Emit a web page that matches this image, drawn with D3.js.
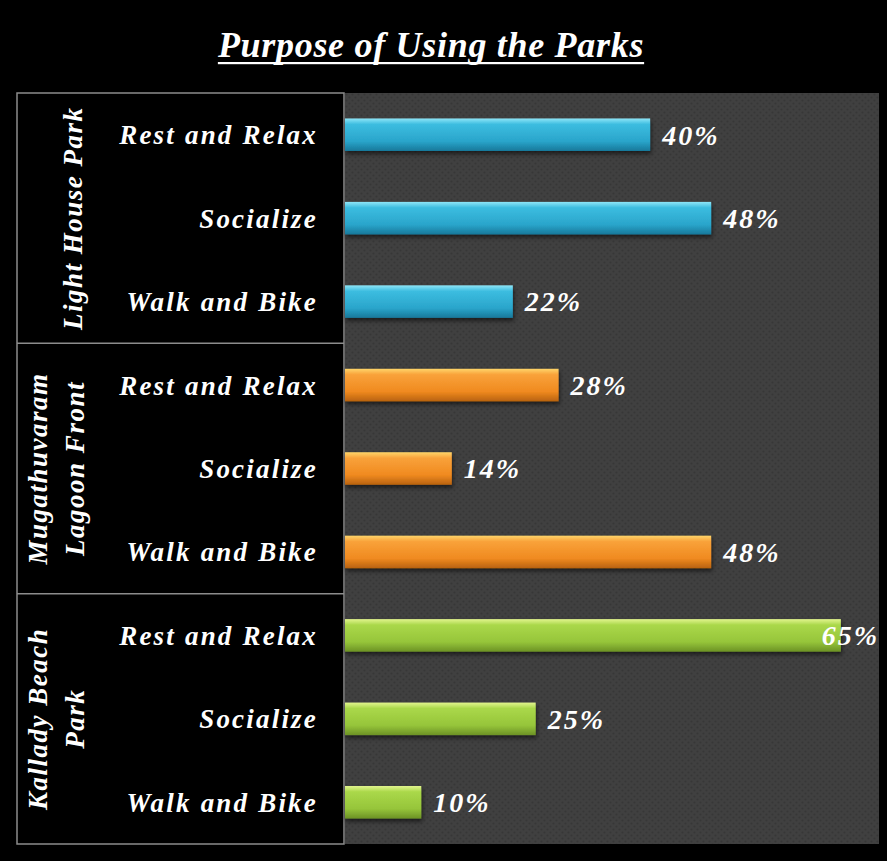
<!DOCTYPE html>
<html><head><meta charset="utf-8">
<script src="https://cdn.jsdelivr.net/npm/d3@7"></script>
<style>
html,body{margin:0;padding:0;background:#000;}
svg{display:block;}
</style></head>
<body>
<script>
const title = "Purpose of Using the Parks";
const groups = ["Light House Park", "Mugathuvaram Lagoon Front", "Kallady Beach Park"];
const groupLines = [["Light House Park"], ["Mugathuvaram", "Lagoon Front"], ["Kallady Beach", "Park"]];
const categories = ["Rest and Relax", "Socialize", "Walk and Bike"];
const lightHouse = [40, 48, 22];
const mugathuvaram = [28, 14, 48];
const kallady = [65, 25, 10];
const seriesValues = [lightHouse, mugathuvaram, kallady];
const palettes = [
  ["#8fe6f8", "#3cbde0", "#2aa5cb", "#17789a"],
  ["#ffd56a", "#f9a23a", "#f08a20", "#b8620f"],
  ["#e2f58e", "#aad84a", "#96c53a", "#6c9225"]
];

const W = 887, H = 861;
const panelL = 17, plotL = 345, plotR = 879, plotTop = 93, plotBottom = 844;
const font = "'Liberation Serif','Times New Roman',serif";

const rows = [];
groups.forEach((g, gi) => categories.forEach((c, ci) => rows.push({g, gi, c, ci, v: seriesValues[gi][ci], key: gi + "|" + ci})));

const svg = d3.select("body").append("svg").attr("width", W).attr("height", H);
const defs = svg.append("defs");

// background dot pattern
const pat = defs.append("pattern").attr("id", "dots").attr("width", 6).attr("height", 6).attr("patternUnits", "userSpaceOnUse");
pat.append("rect").attr("width", 6).attr("height", 6).attr("fill", "#404040");
pat.append("circle").attr("cx", 1.5).attr("cy", 1.5).attr("r", 1.1).attr("fill", "#373737");
pat.append("circle").attr("cx", 4.5).attr("cy", 4.5).attr("r", 1.1).attr("fill", "#373737");

palettes.forEach((p, i) => {
  const lg = defs.append("linearGradient").attr("id", "g" + i).attr("x1", 0).attr("y1", 0).attr("x2", 0).attr("y2", 1);
  lg.append("stop").attr("offset", "0%").attr("stop-color", p[0]);
  lg.append("stop").attr("offset", "18%").attr("stop-color", p[1]);
  lg.append("stop").attr("offset", "70%").attr("stop-color", p[2]);
  lg.append("stop").attr("offset", "100%").attr("stop-color", p[3]);
});
const f = defs.append("filter").attr("id", "shadow").attr("x", "-5%").attr("y", "-30%").attr("width", "110%").attr("height", "170%");
f.append("feDropShadow").attr("dx", 1).attr("dy", 3).attr("stdDeviation", 2).attr("flood-color", "#000").attr("flood-opacity", 0.55);

// title
const t = svg.append("text").attr("x", 431).attr("y", 57).attr("text-anchor", "middle")
  .attr("fill", "#fff").attr("font-family", font).attr("font-weight", "bold").attr("font-style", "italic")
  .attr("font-size", 36).attr("letter-spacing", 0.7).text(title);
const tw = t.node().getComputedTextLength();
svg.append("rect").attr("x", 431 - tw / 2).attr("y", 62).attr("width", tw).attr("height", 2.2).attr("fill", "#fff");

// scales
const y = d3.scaleBand().domain(rows.map(d => d.key)).range([plotTop, plotBottom]).padding(0);
const x = d3.scaleLinear().domain([0, 70]).range([plotL, plotR]);
const barH = y.bandwidth() * 0.39;

// plot area
svg.append("rect").attr("x", plotL).attr("y", plotTop).attr("width", plotR - plotL).attr("height", plotBottom - plotTop).attr("fill", "url(#dots)");

// left panel
svg.append("rect").attr("x", panelL).attr("y", plotTop).attr("width", plotL - panelL - 1).attr("height", plotBottom - plotTop)
  .attr("fill", "#000").attr("stroke", "#8c8c8c").attr("stroke-width", 1.5);
groups.forEach((g, gi) => {
  if (gi === 0) return;
  const yy = y(gi + "|0");
  svg.append("line").attr("x1", panelL).attr("x2", plotL - 1).attr("y1", yy).attr("y2", yy).attr("stroke", "#8c8c8c").attr("stroke-width", 1.5);
});

// group labels
groups.forEach((g, gi) => {
  const cy = (y(gi + "|0") + y(gi + "|2") + y.bandwidth()) / 2;
  const lines = groupLines[gi];
  const xs = lines.length === 1 ? [73] : [38, 75];
  lines.forEach((ln, li) => {
    svg.append("text").attr("transform", `translate(${xs[li]},${cy}) rotate(-90)`)
      .attr("text-anchor", "middle").attr("dy", "0.35em")
      .attr("fill", "#fff").attr("font-family", font).attr("font-weight", "bold").attr("font-style", "italic")
      .attr("font-size", 27).attr("letter-spacing", 1.5).text(ln);
  });
});

// category labels
svg.append("g").selectAll("text").data(rows).join("text")
  .attr("x", 318).attr("y", d => y(d.key) + y.bandwidth() / 2).attr("dy", "0.35em")
  .attr("text-anchor", "end").attr("fill", "#fff").attr("font-family", font)
  .attr("font-weight", "bold").attr("font-style", "italic").attr("font-size", 27).attr("letter-spacing", 2.2)
  .text(d => d.c);

// bars
svg.append("g").selectAll("rect").data(rows).join("rect")
  .attr("x", x(0)).attr("y", d => y(d.key) + (y.bandwidth() - barH) / 2)
  .attr("width", d => x(d.v) - x(0)).attr("height", barH)
  .attr("fill", d => `url(#g${d.gi})`).attr("filter", "url(#shadow)");

// value labels
const vl = svg.append("g").selectAll("text").data(rows).join("text")
  .attr("y", d => y(d.key) + y.bandwidth() / 2).attr("dy", "0.35em")
  .attr("fill", "#fff").attr("font-family", font)
  .attr("font-weight", "bold").attr("font-style", "italic").attr("font-size", 28).attr("letter-spacing", 2)
  .text(d => d.v + "%");
vl.each(function(d) {
  const w = this.getComputedTextLength();
  let xx = x(d.v) + 12;
  if (xx + w > plotR) xx = plotR - w;
  d3.select(this).attr("x", xx);
});
</script>
</body></html>
